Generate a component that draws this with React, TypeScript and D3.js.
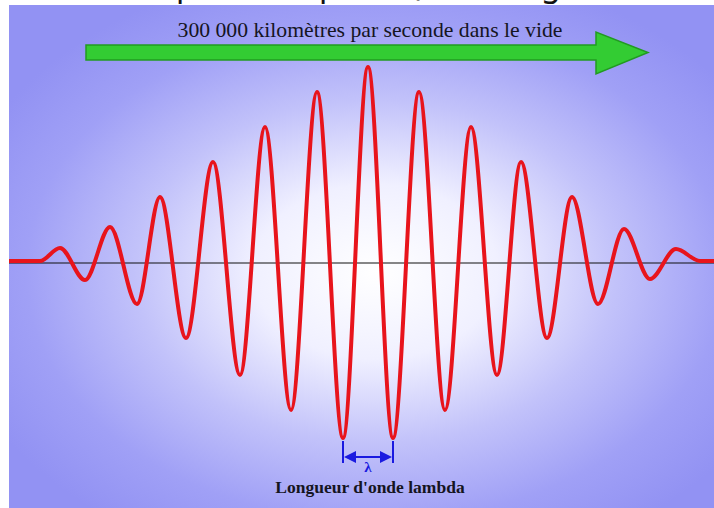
import React from "react";
import * as d3 from "d3";

// extrema of the red wave (position, amplitude above the axis)
const waveX = [9, 40, 60, 85, 110, 137, 160, 186, 213, 240, 265, 291, 317, 343, 368, 393, 419, 445, 471, 497, 521, 547, 572, 598, 624, 650, 676, 700, 714];
const waveAmp = [2, 2, 15, -17, 36, -41, 66, -75, 101, -112, 136, -147, 171, -175, 196, -175, 171, -147, 136, -112, 101, -75, 66, -41, 34, -16, 14, 2, 2];

const title = "300 000 kilomètres par seconde dans le vide";
const caption = "Longueur d'onde lambda";
const lambda = "λ";

const W = 714, H = 508;

export default function App() {
  const x = d3.scaleLinear().domain([0, 714]).range([0, W]);
  const y = d3.scaleLinear().domain([-200, 200]).range([463, 63]);

  const pts: [number, number][] = waveX.map((v, i) => [v, waveAmp[i]]);
  const line = d3.line<[number, number]>()
    .x(d => x(d[0]))
    .y(d => y(d[1]))
    .curve(d3.curveMonotoneX);

  // wavelength bracket between the two troughs next to the centre crest
  const centre = waveAmp.indexOf(d3.max(waveAmp) as number);
  const xa = x(waveX[centre - 1]), xb = x(waveX[centre + 1]);
  const yArrow = 457;

  // green arrow
  const ax0 = 86, ax1 = 596, axTip = 648, ayMid = 52.5;
  const arrow = [
    [ax0, 45], [ax1, 45], [ax1, 32], [axTip, ayMid], [ax1, 74], [ax1, 60], [ax0, 60]
  ];
  const arrowPath = d3.line()(arrow as [number, number][]) + "Z";

  return (
    <svg width={W} height={H} style={{ position: "absolute", left: 0, top: 0, background: "#fff" }}>
      <defs>
        <radialGradient id="bg" cx="0.52" cy="0.53" r="0.62">
          <stop offset="0" stopColor="#ffffff" />
          <stop offset="0.28" stopColor="#f0f0ff" />
          <stop offset="0.55" stopColor="#c2c2fa" />
          <stop offset="0.8" stopColor="#a0a0f6" />
          <stop offset="1" stopColor="#9292f3" />
        </radialGradient>
      </defs>

      {/* descenders of the cut-off heading above the picture */}
      <g fontFamily="Noto Sans" fontSize={32} fill="#111">
        <text x={176} y={-4}>p</text>
        <text x={319} y={-4}>p</text>
        <text x={411} y={-4}>(</text>
        <text x={541} y={-4}>g</text>
      </g>

      <rect x={9} y={5} width={W - 9} height={H - 5} fill="url(#bg)" />

      <text x={370} y={37} textAnchor="middle" fontFamily="Liberation Serif" fontSize={21.7} fill="#15151f">{title}</text>

      <path d={arrowPath} fill="#33cc33" stroke="#229a22" strokeWidth={1.5} strokeLinejoin="miter" />

      <line x1={x(9)} x2={x(714)} y1={y(0)} y2={y(0)} stroke="#111" strokeWidth={1.2} />

      <path d={line(pts) || ""} fill="none" stroke="#e8141c" strokeWidth={4} strokeLinejoin="round" />

      <g stroke="#1a1ae0" strokeWidth={2} fill="#1a1ae0">
        <line x1={xa} x2={xa} y1={441} y2={463} />
        <line x1={xb} x2={xb} y1={441} y2={463} />
        <line x1={xa + 8} x2={xb - 8} y1={yArrow} y2={yArrow} />
        <path d={`M${xa + 1},${yArrow}L${xa + 13},${yArrow - 6}L${xa + 13},${yArrow + 6}Z`} stroke="none" />
        <path d={`M${xb - 1},${yArrow}L${xb - 13},${yArrow - 6}L${xb - 13},${yArrow + 6}Z`} stroke="none" />
      </g>
      <text x={(xa + xb) / 2} y={472} textAnchor="middle" fontFamily="Liberation Serif" fontWeight="bold" fontSize={15} fill="#1a1ae0">{lambda}</text>

      <text x={370} y={493} textAnchor="middle" fontFamily="Liberation Serif" fontWeight="bold" fontSize={17.5} fill="#15151f">{caption}</text>
    </svg>
  );
}
